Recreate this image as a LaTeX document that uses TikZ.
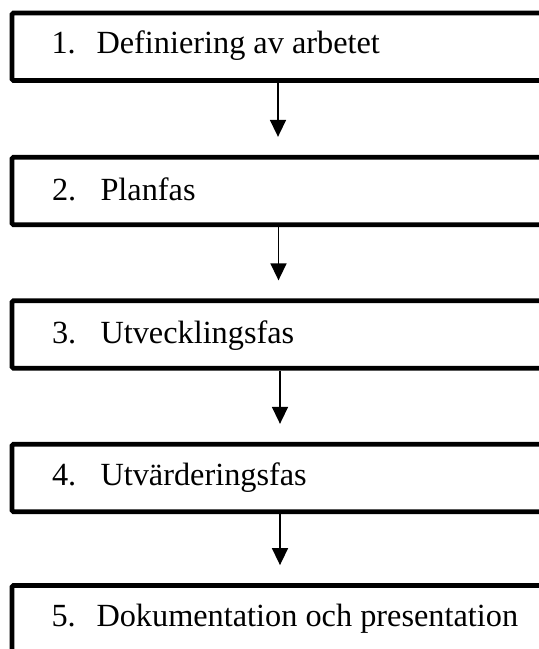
\documentclass[tikz,border=0pt]{standalone}
\usepackage{fontspec}
\setmainfont{Liberation Serif}
\usetikzlibrary{arrows.meta}
\begin{document}
\begin{tikzpicture}[x=1bp,y=-1bp,
  stage/.style={draw=black, fill=white, line width=4.8bp, rounded corners=1.5bp,
    minimum width=568bp, minimum height=67.5bp, inner sep=0pt, rectangle},
  lbl/.style={anchor=base west, inner sep=0pt, outer sep=0pt,
    font=\fontsize{32.3bp}{38bp}\selectfont},
  flow/.style={draw=black, line width=1.6bp, -{Triangle[width=16bp,length=17bp]},
    shorten >=18bp}
]
\useasboundingbox (0,0) rectangle (539,649);
\clip (0,0) rectangle (539,649);
% boxes
\node[stage] (b1) at (296,46.75) {};
\node[stage] (b2) at (296,191) {};
\node[stage] (b3) at (296,334.5) {};
\node[stage] (b4) at (296,478) {};
\node[stage] (b5) at (296,619.25) {};
% labels
\node[lbl] (n1) at (51.5,54) {1.};
\node[lbl] (t1) at (96.5,54) {Definiering av arbetet};
\node[lbl] (n2) at (52,200) {2.};
\node[lbl] (t2) at (100.5,200) {Planfas};
\node[lbl] (n3) at (52,343) {3.};
\node[lbl] (t3) at (100.5,343) {Utvecklingsfas};
\node[lbl] (n4) at (52,485) {4.};
\node[lbl] (t4) at (100.5,485) {Utvärderingsfas};
\node[lbl] (n5) at (51.5,626) {5.};
\node[lbl] (t5) at (96.5,626) {Dokumentation och presentation};
% arrow columns
\coordinate (a1) at (278,0);
\coordinate (a2) at (278.5,0);
\coordinate (a3) at (280,0);
\coordinate (a4) at (280,0);
\draw[flow] (b1.south -| a1) -- (b2.north -| a1);
\draw[flow] (b2.south -| a2) -- (b3.north -| a2);
\draw[flow] (b3.south -| a3) -- (b4.north -| a3);
\draw[flow] (b4.south -| a4) -- (b5.north -| a4);
\end{tikzpicture}
\end{document}
